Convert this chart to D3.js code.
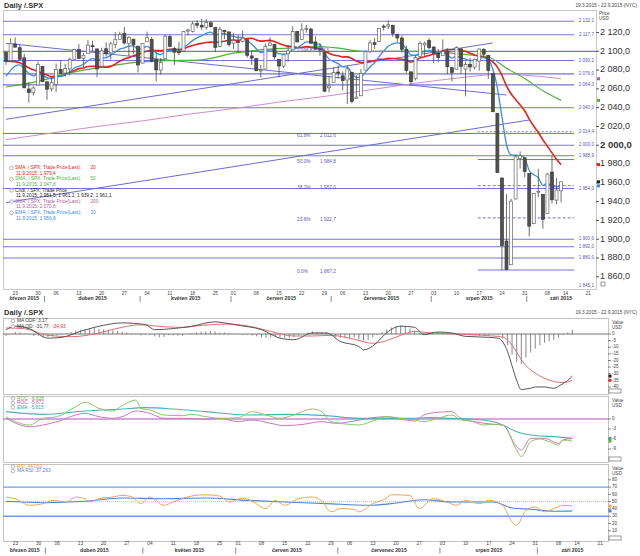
<!DOCTYPE html>
<html>
<head>
<meta charset="utf-8">
<script src="https://cdn.jsdelivr.net/npm/d3@7"></script>
<style>
body { margin: 0; background: #fff; }
text { font-family: "Liberation Sans", Arial, sans-serif; }
</style>
</head>
<body>
<svg id="chart" width="640" height="556"></svg>
<script>
// daily candles: date, open, high, low, close
var candles = [
["2015-03-19",2098.7,2098.7,2085.6,2089.3],["2015-03-20",2090.3,2113.9,2090.3,2108.1],
["2015-03-23",2108.0,2114.9,2104.4,2104.4],["2015-03-24",2103.9,2107.6,2091.5,2091.5],
["2015-03-25",2093.1,2097.4,2061.1,2061.1],["2015-03-26",2059.9,2067.2,2045.5,2056.2],
["2015-03-27",2055.8,2062.8,2053.0,2061.0],["2015-03-30",2064.1,2089.0,2064.1,2086.2],
["2015-03-31",2084.1,2084.1,2067.0,2067.9],["2015-04-01",2067.6,2067.6,2048.4,2059.7],
["2015-04-02",2060.0,2072.2,2057.3,2067.0],["2015-04-06",2064.9,2087.0,2056.5,2080.6],
["2015-04-07",2080.8,2089.8,2076.1,2076.3],["2015-04-08",2076.9,2086.7,2073.3,2081.9],
["2015-04-09",2081.3,2093.3,2074.3,2091.2],["2015-04-10",2091.5,2102.6,2091.5,2102.1],
["2015-04-13",2102.0,2107.7,2092.3,2092.4],["2015-04-14",2092.3,2098.6,2083.2,2095.8],
["2015-04-15",2097.8,2111.9,2097.8,2106.6],["2015-04-16",2106.0,2111.3,2100.0,2105.0],
["2015-04-17",2102.6,2102.6,2072.4,2081.2],["2015-04-20",2084.1,2103.9,2084.1,2100.4],
["2015-04-21",2102.8,2109.6,2094.4,2097.3],["2015-04-22",2098.3,2110.0,2091.1,2108.0],
["2015-04-23",2107.2,2120.5,2103.2,2112.9],["2015-04-24",2112.8,2120.9,2112.8,2117.7],
["2015-04-27",2119.3,2125.9,2107.0,2108.9],["2015-04-28",2108.4,2116.0,2094.9,2114.8],
["2015-04-29",2112.5,2113.7,2097.4,2106.9],["2015-04-30",2105.5,2105.5,2077.6,2085.5],
["2015-05-01",2087.4,2108.4,2087.4,2108.3],["2015-05-04",2110.2,2121.0,2110.2,2114.5],
["2015-05-05",2112.6,2115.2,2088.5,2089.5],["2015-05-06",2091.3,2098.4,2067.9,2080.2],
["2015-05-07",2080.0,2092.9,2075.0,2088.0],["2015-05-08",2092.1,2117.7,2092.1,2116.1],
["2015-05-11",2115.6,2117.7,2104.6,2105.3],["2015-05-12",2102.9,2105.1,2085.6,2099.1],
["2015-05-13",2099.6,2110.2,2096.0,2098.5],["2015-05-14",2100.4,2121.5,2100.4,2121.1],
["2015-05-15",2122.1,2123.9,2116.8,2122.7],["2015-05-18",2121.3,2131.8,2120.0,2129.2],
["2015-05-19",2129.5,2133.0,2124.5,2127.8],["2015-05-20",2127.8,2134.7,2122.6,2125.9],
["2015-05-21",2125.6,2134.3,2123.0,2130.8],["2015-05-22",2130.4,2132.2,2126.1,2126.1],
["2015-05-26",2125.3,2125.3,2099.2,2104.2],["2015-05-27",2105.1,2126.2,2105.1,2123.5],
["2015-05-28",2122.3,2122.3,2112.9,2120.8],["2015-05-29",2120.7,2120.7,2104.9,2107.4],
["2015-06-01",2108.6,2119.2,2102.5,2111.7],["2015-06-02",2110.4,2117.6,2099.1,2109.6],
["2015-06-03",2110.6,2121.9,2109.6,2114.1],["2015-06-04",2112.4,2112.9,2093.2,2095.8],
["2015-06-05",2095.1,2101.0,2085.7,2092.8],["2015-06-08",2092.3,2093.0,2079.1,2079.3],
["2015-06-09",2079.1,2085.6,2072.1,2080.2],["2015-06-10",2081.1,2108.5,2081.1,2105.2],
["2015-06-11",2106.2,2115.0,2106.2,2108.9],["2015-06-12",2107.4,2107.4,2091.3,2094.1],
["2015-06-15",2091.3,2091.3,2072.5,2084.4],["2015-06-16",2084.3,2097.4,2082.1,2096.3],
["2015-06-17",2097.4,2106.8,2088.9,2100.4],["2015-06-18",2101.6,2126.7,2101.6,2121.2],
["2015-06-19",2121.1,2121.6,2109.5,2110.0],["2015-06-22",2112.5,2129.9,2112.5,2122.9],
["2015-06-23",2123.2,2128.0,2119.9,2124.2],["2015-06-24",2123.7,2125.1,2108.6,2108.6],
["2015-06-25",2110.0,2116.0,2101.8,2102.3],["2015-06-26",2102.6,2108.9,2095.4,2101.5],
["2015-06-29",2098.6,2098.6,2056.6,2057.6],["2015-06-30",2061.2,2074.3,2056.3,2063.1],
["2015-07-01",2067.0,2082.8,2067.0,2077.4],["2015-07-02",2078.0,2085.1,2071.0,2076.8],
["2015-07-06",2074.0,2078.6,2058.4,2068.8],["2015-07-07",2069.5,2083.7,2044.0,2081.3],
["2015-07-08",2077.7,2077.7,2044.7,2046.7],["2015-07-09",2049.7,2074.3,2049.7,2051.3],
["2015-07-10",2052.7,2081.3,2052.7,2076.6],["2015-07-13",2080.0,2100.7,2080.0,2099.6],
["2015-07-14",2099.7,2112.0,2098.2,2109.0],["2015-07-15",2109.2,2114.1,2102.5,2107.4],
["2015-07-16",2110.6,2124.4,2110.6,2124.3],["2015-07-17",2126.8,2128.9,2122.0,2126.6],
["2015-07-20",2126.9,2132.8,2123.7,2128.3],["2015-07-21",2127.6,2128.5,2115.4,2119.2],
["2015-07-22",2118.2,2118.5,2110.0,2114.2],["2015-07-23",2114.2,2116.9,2098.6,2102.2],
["2015-07-24",2102.2,2106.0,2077.1,2079.7],["2015-07-27",2078.2,2078.2,2063.5,2067.6],
["2015-07-28",2070.8,2095.6,2069.1,2093.3],["2015-07-29",2094.7,2110.6,2094.1,2108.6],
["2015-07-30",2106.8,2110.5,2095.0,2108.6],["2015-07-31",2111.6,2114.2,2102.1,2103.8],
["2015-08-03",2104.5,2105.7,2087.3,2098.0],["2015-08-04",2097.7,2102.5,2088.6,2093.3],
["2015-08-05",2095.3,2112.7,2095.3,2099.8],["2015-08-06",2100.1,2103.3,2075.5,2083.6],
["2015-08-07",2082.6,2082.6,2067.9,2077.6],["2015-08-10",2081.0,2105.4,2081.0,2104.2],
["2015-08-11",2102.7,2102.7,2076.5,2084.1],["2015-08-12",2081.1,2089.1,2052.1,2086.1],
["2015-08-13",2086.2,2092.9,2078.3,2083.4],["2015-08-14",2083.2,2092.5,2080.6,2091.5],
["2015-08-17",2089.7,2102.9,2079.3,2102.4],["2015-08-18",2102.0,2103.5,2094.1,2096.9],
["2015-08-19",2095.7,2096.2,2070.5,2079.6],["2015-08-20",2076.6,2076.6,2035.7,2035.7],
["2015-08-21",2034.1,2034.1,1970.9,1970.9],["2015-08-24",1965.2,1965.2,1867.0,1893.2],
["2015-08-25",1898.1,1948.0,1867.1,1867.6],["2015-08-26",1872.8,1943.1,1872.8,1940.5],
["2015-08-27",1942.8,1989.6,1942.8,1987.7],["2015-08-28",1986.1,1993.5,1975.2,1988.9],
["2015-08-31",1986.7,1986.7,1966.0,1972.2],["2015-09-01",1970.1,1970.1,1903.1,1913.9],
["2015-09-02",1916.5,1948.9,1916.5,1948.9],["2015-09-03",1950.8,1975.0,1944.7,1951.1],
["2015-09-04",1947.8,1947.8,1911.2,1921.2],["2015-09-08",1927.3,1970.4,1927.3,1969.4],
["2015-09-09",1971.5,1988.6,1937.9,1942.0],["2015-09-10",1941.6,1965.3,1937.2,1952.3],
["2015-09-11",1951.5,1961.1,1939.2,1961.1]
];
// empty trading days still on the axis
var futureDays = ["2015-09-14","2015-09-15","2015-09-16","2015-09-17","2015-09-18","2015-09-21","2015-09-22"];

// per-day EMA 10 and SMA 20 (one value per candle)
var ema10 = [2073.5,2079.8,2084.3,2085.6,2081.1,2076.6,2073.8,2076.1,2074.6,2071.9,
2071.0,2072.7,2073.4,2074.9,2077.9,2082.3,2084.1,2086.2,2089.9,2092.6,
2090.5,2092.3,2093.2,2095.9,2099.0,2102.4,2103.6,2105.6,2105.8,2102.1,
2103.2,2105.3,2102.4,2098.4,2096.5,2100.1,2101.0,2100.7,2100.3,2104.1,
2107.5,2111.4,2114.4,2116.5,2119.1,2120.4,2117.5,2118.6,2119.0,2116.9,
2116.0,2114.8,2114.7,2111.3,2107.9,2102.7,2098.6,2099.8,2101.5,2100.2,
2097.3,2097.1,2097.7,2102.0,2103.5,2107.0,2110.1,2109.8,2108.4,2107.1,
2098.1,2091.7,2089.1,2086.9,2083.6,2083.2,2076.6,2072.0,2072.8,2077.7,
2083.4,2087.8,2094.4,2100.3,2105.4,2107.9,2109.0,2107.7,2102.6,2096.2,
2095.7,2098.0,2099.9,2100.6,2100.1,2098.9,2099.1,2096.3,2092.9,2095.0,
2093.0,2091.7,2090.2,2090.4,2092.6,2093.4,2090.9,2080.9,2060.9,2030.4,
2000.8,1989.8,1989.4,1989.3,1986.2,1973.1,1968.7,1965.5,1957.4,1959.6,
1956.4,1955.7,1956.8];
var sma20 = [2089.4,2089.3,2089.0,2087.8,2085.2,2082.5,2080.3,2078.7,2076.7,2074.8,
2073.1,2073.6,2073.4,2075.3,2077.8,2079.6,2081.6,2082.3,2083.9,2084.2,
2083.8,2083.4,2083.0,2083.9,2086.4,2089.5,2091.9,2093.3,2095.3,2096.6,
2098.6,2100.3,2101.0,2100.9,2100.7,2101.4,2102.1,2102.2,2101.8,2102.6,
2104.7,2106.1,2107.6,2108.5,2109.4,2109.8,2109.6,2110.0,2110.7,2111.8,
2112.0,2111.7,2113.0,2113.7,2114.0,2112.1,2110.9,2111.2,2111.7,2110.4,
2108.4,2106.8,2105.4,2105.2,2104.1,2104.0,2105.0,2104.2,2103.3,2103.0,
2100.3,2098.0,2096.1,2095.2,2094.0,2094.1,2092.4,2089.7,2088.1,2088.4,
2089.6,2090.2,2091.4,2091.6,2092.6,2092.4,2091.9,2091.5,2090.4,2088.7,
2090.5,2092.8,2094.3,2095.7,2097.1,2097.7,2100.4,2102.0,2102.0,2102.3,
2101.0,2100.0,2097.9,2096.2,2094.9,2093.7,2092.0,2088.7,2083.2,2074.5,
2063.2,2054.8,2048.8,2043.0,2036.7,2027.8,2020.2,2013.6,2005.8,1999.0,
1991.9,1985.2,1979.4];
// slower averages read at sample dates
var sma50 = [["2015-03-19",2062],["2015-03-30",2068],["2015-04-09",2077],["2015-04-20",2083],
["2015-04-29",2088],["2015-05-08",2090],["2015-05-20",2091],["2015-06-01",2098],
["2015-06-10",2102],["2015-06-19",2104],["2015-06-26",2105],["2015-07-01",2104],
["2015-07-13",2100],["2015-07-22",2100],["2015-07-31",2100],["2015-08-11",2097],
["2015-08-19",2094],["2015-08-25",2082],["2015-08-31",2071],["2015-09-04",2058],
["2015-09-11",2047.8]];
var sma200 = [["2015-03-19",2006],["2015-04-02",2013],["2015-04-17",2020],["2015-05-01",2026],
["2015-05-15",2033],["2015-06-01",2039],["2015-06-15",2046],["2015-06-29",2052],
["2015-07-14",2059],["2015-07-28",2066],["2015-08-11",2072],["2015-08-19",2075],
["2015-08-25",2076],["2015-08-31",2074.5],["2015-09-04",2073],["2015-09-11",2070.8]];

// horizontal price levels with labels at the right
var levelPrices = [2132.1, 2117.7, 2090.2, 2076.0, 2064.3, 2040.0, 2000.0, 1988.9, 1954.0, 1900.0, 1892.0, 1880.0, 1845.1];
var plainLevels = [2100.0, 2012.6];
var dashLevel = 2014.4;
// fibonacci retracement
var fibPct = ["61.8%", "50.0%", "38.2%", "23.6%", "0.0%"];
var fibPrices = [2012.6, 1984.8, 1957.0, 1922.7, 1867.2];
var fibDashed = [false, false, true, true, false];
var fibStart = "2015-08-17";
// trend lines (date, price) end points
var trendLines = [
  [["2015-03-19", 2108.5], ["2015-08-25", 2053.5]],
  [["2015-03-19", 2027.7], ["2015-08-20", 2108.9]],
  [["2015-03-19", 1939.0], ["2015-09-01", 2026.9]]
];
var priceTicks = [1860, 1880, 1900, 1920, 1940, 1960, 1980, 2000, 2020, 2040, 2060, 2080, 2100, 2120];

// MACD
var macdLine = [["2015-03-19",3.3],["2015-03-23",5.9],["2015-03-26",4],["2015-04-01",-3.1],["2015-04-07",-2.5],
["2015-04-13",2],["2015-04-20",6.6],["2015-04-24",8.4],["2015-05-01",7.1],["2015-05-05",3.3],
["2015-05-11",4.1],["2015-05-15",5.9],["2015-05-22",9.2],["2015-05-27",8.4],["2015-06-01",6.6],
["2015-06-08",3.3],["2015-06-12",-3.1],["2015-06-17",-4.3],["2015-06-23",0.8],["2015-06-26",0.8],
["2015-07-01",-5.6],["2015-07-08",-9.4],["2015-07-09",-12],["2015-07-13",-9],["2015-07-14",-6],
["2015-07-16",1],["2015-07-21",5.9],["2015-07-24",5.1],["2015-07-28",-0.5],["2015-07-31",1.5],
["2015-08-05",0.8],["2015-08-10",-1.8],["2015-08-17",-2.5],["2015-08-19",-3.1],["2015-08-20",-6],
["2015-08-21",-13],["2015-08-24",-24],["2015-08-25",-35],["2015-08-26",-42],["2015-08-27",-41.5],
["2015-08-28",-41],["2015-08-31",-40],["2015-09-01",-40],["2015-09-02",-40],["2015-09-03",-40.5],
["2015-09-04",-41],["2015-09-08",-39.5],["2015-09-09",-37.4],["2015-09-10",-35],["2015-09-11",-31.8]];
var macdSignal = [["2015-03-19",4.6],["2015-03-25",4],["2015-04-01",-1],["2015-04-09",-2],["2015-04-16",0],
["2015-04-22",3.5],["2015-04-30",7],["2015-05-07",5.5],["2015-05-13",5],["2015-05-19",6.5],
["2015-05-28",7.5],["2015-06-04",5.5],["2015-06-10",2],["2015-06-17",-1.5],["2015-06-23",-1.5],
["2015-06-29",-1],["2015-07-07",-4],["2015-07-13",-7],["2015-07-16",-5],["2015-07-21",-1],
["2015-07-24",2],["2015-07-29",1],["2015-08-04",0.5],["2015-08-11",-0.5],["2015-08-18",-1.5],
["2015-08-20",-2.3],["2015-08-21",-4.5],["2015-08-24",-8.5],["2015-08-25",-13.8],["2015-08-26",-19.4],
["2015-08-27",-23.8],["2015-08-28",-27],["2015-08-31",-29.6],["2015-09-01",-31.7],["2015-09-02",-33.4],
["2015-09-03",-34.8],["2015-09-04",-35.9],["2015-09-08",-36.5],["2015-09-09",-36.7],["2015-09-10",-36.2],
["2015-09-11",-34.9]];
var macdHist = [
-1.3,-0.2,1.5,1.2,0.3,-0.5,-1.5,-1.2,-2,-2.2,
-1.8,-1,-0.5,0.5,1.5,2.5,3.2,3.8,4.3,4.5,
3.8,3.5,3.2,2.8,2.2,1.8,1.2,0.8,0.2,-1,
-0.5,-0.8,-1.8,-2.5,-2.2,-0.8,-1,-1.2,-1.3,0,
0.5,1.2,1.8,2,2.2,2,1,1.2,0.8,0,
-0.2,-0.5,-0.5,-1.2,-1.8,-2.5,-3,-2.5,-2,-2.5,
-3,-2.8,-2.5,-1,0,1.2,2,1.5,1.2,1.5,
-1.5,-2.5,-2.8,-3,-3.2,-2.8,-4,-5,-4.5,-2.5,
-0.5,1.5,3.5,5,6,6.5,5.5,4.2,2.5,0.5,
0.8,1.5,1.8,1.5,1,0.5,0.5,-0.3,-1,-0.5,
-0.8,-1,-1.2,-1.1,-0.6,-0.5,-1,-3.5,-8.5,-15.5,
-21,-22.6,-17.7,-14,-11,-8.5,-6.6,-5.5,-4.5,-3,
-0.7,1.2,3.17];
var macdTicks = [0, -5, -10, -15, -20, -25, -30, -35, -40];

// ROC
var rocA = [["2015-03-19",0.7],["2015-03-23",-0.8],["2015-03-26",-1.8],["2015-03-31",0.2],["2015-04-06",0.7],
["2015-04-10",3.7],["2015-04-14",5],["2015-04-17",3.2],["2015-04-22",2.4],["2015-04-24",4],
["2015-04-29",5.7],["2015-04-30",3.2],["2015-05-04",2.7],["2015-05-07",1.2],["2015-05-13",1],
["2015-05-15",1.4],["2015-05-20",0.7],["2015-05-26",0.2],["2015-06-01",0.4],["2015-06-04",2.2],
["2015-06-09",1.2],["2015-06-12",0.2],["2015-06-17",1.2],["2015-06-23",3],["2015-06-25",2.2],
["2015-06-29",-0.8],["2015-07-06",-1.6],["2015-07-08",-1.8],["2015-07-13",-0.6],["2015-07-16",0.7],
["2015-07-21",0.2],["2015-07-24",-0.3],["2015-07-28",-0.8],["2015-07-31",0.2],["2015-08-05",1.2],
["2015-08-07",-0.3],["2015-08-11",-0.6],["2015-08-14",-1.8],["2015-08-18",-1.6],["2015-08-20",-1.8],
["2015-08-25",-9.3],["2015-08-26",-11.3],["2015-08-28",-6.8],["2015-09-01",-6],["2015-09-03",-6.8],
["2015-09-08",-7.8],["2015-09-09",-6.3],["2015-09-11",-6.64]];
var rocB = [["2015-03-19",0.2],["2015-03-26",-2.3],["2015-03-31",-1.8],["2015-04-06",-0.8],["2015-04-10",1.2],
["2015-04-14",1.7],["2015-04-17",0.7],["2015-04-22",0.2],["2015-04-24",0.7],["2015-04-29",2.4],
["2015-05-04",1.7],["2015-05-07",0.2],["2015-05-13",0.2],["2015-05-20",-0.1],["2015-05-26",0.2],
["2015-06-01",-0.8],["2015-06-04",-0.3],["2015-06-10",-1.3],["2015-06-15",-2],["2015-06-19",-1.6],
["2015-06-25",-0.8],["2015-06-30",-1.3],["2015-07-07",-0.6],["2015-07-10",0.2],["2015-07-16",0.7],
["2015-07-21",0],["2015-07-24",-0.6],["2015-07-28",1.2],["2015-07-31",2],["2015-08-05",2.2],
["2015-08-07",0.2],["2015-08-12",-0.8],["2015-08-18",-1.6],["2015-08-20",-1.8],["2015-08-25",-8.3],
["2015-08-26",-9.3],["2015-08-28",-5.8],["2015-09-02",-5.8],["2015-09-08",-7.3],["2015-09-09",-6.3],
["2015-09-11",-5.87]];
var rocEma = [["2015-03-19",2.2],["2015-03-31",1.4],["2015-04-14",2.4],["2015-04-24",3],["2015-05-01",3.4],
["2015-05-11",3],["2015-05-20",2.2],["2015-06-03",1.2],["2015-06-15",1.4],["2015-06-26",1],
["2015-07-08",0.2],["2015-07-16",0.2],["2015-07-23",0.2],["2015-07-29",0.4],["2015-08-05",0.2],
["2015-08-11",0],["2015-08-18",-0.8],["2015-08-20",-1.8],["2015-08-25",-3.8],["2015-08-28",-4.8],
["2015-09-04",-5.3],["2015-09-11",-5.8]];
var rocTicks = [0, -3, -6, -9];

// RSI
var rsi = [["2015-03-19",56.4],["2015-03-23",54],["2015-03-26",45],["2015-03-31",47.3],["2015-04-02",51.8],
["2015-04-08",49.5],["2015-04-10",56.4],["2015-04-14",54],["2015-04-15",49.5],["2015-04-17",54],
["2015-04-22",56.4],["2015-04-24",58.6],["2015-04-28",57],["2015-04-30",47.3],["2015-05-04",56.4],
["2015-05-07",45],["2015-05-11",49.5],["2015-05-14",56.4],["2015-05-20",59.5],["2015-05-26",57.7],
["2015-05-28",49.5],["2015-06-02",55],["2015-06-04",50.5],["2015-06-09",40.5],["2015-06-11",51.8],
["2015-06-15",45],["2015-06-18",54],["2015-06-23",56.4],["2015-06-25",51],["2015-06-29",36],
["2015-07-01",40.5],["2015-07-07",39.5],["2015-07-08",36],["2015-07-13",47.3],["2015-07-16",55],
["2015-07-17",59.5],["2015-07-23",58.6],["2015-07-27",40.5],["2015-07-30",54],["2015-08-04",49.5],
["2015-08-06",45],["2015-08-10",51.8],["2015-08-13",47.3],["2015-08-17",51.8],["2015-08-20",45],
["2015-08-24",22.3],["2015-08-25",17.7],["2015-08-27",38.2],["2015-08-31",42.7],["2015-09-02",36],
["2015-09-04",40.5],["2015-09-09",45],["2015-09-11",44.0]];
var rsiMa = [["2015-03-19",50.5],["2015-03-31",48.6],["2015-04-14",50.5],["2015-04-24",55],["2015-05-07",54],
["2015-05-20",55],["2015-06-03",51.8],["2015-06-15",49.5],["2015-06-26",47.3],["2015-07-10",45],
["2015-07-17",47.3],["2015-07-28",52.7],["2015-08-05",49.5],["2015-08-18",49.5],["2015-08-24",41.4],
["2015-08-28",39.5],["2015-09-04",36.8],["2015-09-11",37.3]];
var rsiTicks = [80, 70, 60, 50, 40, 30, 20, 10];
var rsiBands = [70, 30];

// date axis
var weekTicks = ["2015-03-23","2015-03-30","2015-04-06","2015-04-13","2015-04-20","2015-04-27","2015-05-04",
"2015-05-11","2015-05-18","2015-05-26","2015-06-01","2015-06-08","2015-06-15","2015-06-22","2015-06-29",
"2015-07-06","2015-07-13","2015-07-20","2015-07-27","2015-08-03","2015-08-10","2015-08-17","2015-08-24",
"2015-08-31","2015-09-08","2015-09-14","2015-09-21"];
var weekLabels = ["23","30","06","13","20","27","04","11","18","25","01","08","15","22","29","06","13","20","27","03","10","17","24","31","08","14","21"];
var monthNames = ["březen 2015","duben 2015","květen 2015","červen 2015","červenec 2015","srpen 2015","září 2015"];
var monthStarts = ["2015-03-19","2015-04-01","2015-05-01","2015-06-01","2015-07-01","2015-08-03","2015-09-01"];

var svg = d3.select('#chart');

var main = {l: 3, r: 596, t: 10, b: 289};
var lowR = 608;
var macdP = {t: 318, b: 394}, rocP = {t: 396, b: 462}, rsiP = {t: 464, b: 541};
var lvlEnd = 574;
var blueLvl = '#7373d4';

var allDays = candles.map(function (d) { return d[0]; }).concat(futureDays);
var xMain = d3.scaleBand().domain(allDays).range([main.l, main.r]).padding(0.35);
var xLow = d3.scaleBand().domain(allDays).range([main.l, lowR]).padding(0.35);
function cx(x, d) { return x(d) + x.bandwidth() / 2; }

var y = d3.scaleLinear().domain([1847, 2144]).range([main.b, main.t]);
var yMacd = d3.scaleLinear().domain([-45.3, 12.1]).range([macdP.b, macdP.t]);
var yRoc = d3.scaleLinear().domain([-12.9, 6.9]).range([rocP.b, rocP.t]);
var yRsi = d3.scaleLinear().domain([-4, 101.7]).range([rsiP.b, rsiP.t]);

function fmt(v) { return d3.format(',.1f')(v).replace(/,/g, ' ').replace('.', ','); }

function txt(x, yy, s, size, color, anchor, weight) {
    return svg.append('text')
        .attr('x', x).attr('y', yy)
        .attr('dominant-baseline', 'middle')
        .attr('text-anchor', anchor || 'start')
        .style('font-size', size + 'px')
        .style('font-weight', weight || 'normal')
        .style('fill', color)
        .text(s);
}

// clip paths
var defs = svg.append('defs');
[['clipMain', main.t, main.b, main.r], ['clipMacd', macdP.t, macdP.b, lowR],
 ['clipRoc', rocP.t, rocP.b, lowR], ['clipRsi', rsiP.t, rsiP.b, lowR]].forEach(function (c) {
    defs.append('clipPath').attr('id', c[0]).append('rect')
        .attr('x', main.l).attr('y', c[1]).attr('width', c[3] - main.l).attr('height', c[2] - c[1]);
});

// headers
txt(4, 6, 'Daily /.SPX', 7.5, '#333', 'start', 'bold');
txt(637, 6, '19.3.2015 - 22.9.2015 (NYC)', 4.8, '#444', 'end');
txt(4, 313, 'Daily /.SPX', 7.5, '#333', 'start', 'bold');
txt(637, 313, '19.3.2015 - 22.9.2015 (NYC)', 4.8, '#444', 'end');

// ---------- main price panel ----------
svg.append('rect').attr('x', main.l + 0.5).attr('y', main.t + 0.5)
    .attr('width', main.r - main.l).attr('height', main.b - main.t)
    .attr('fill', '#fff').attr('stroke', '#c8c8c8');

var gMain = svg.append('g').attr('clip-path', 'url(#clipMain)');

plainLevels.forEach(function (p, i) {
    gMain.append('line')
        .attr('x1', main.l).attr('x2', i === 0 ? main.r : xMain(fibStart))
        .attr('y1', y(p)).attr('y2', y(p))
        .attr('stroke', blueLvl).attr('stroke-width', 1.1);
});

levelPrices.forEach(function (p) {
    gMain.append('line')
        .attr('x1', main.l).attr('x2', lvlEnd)
        .attr('y1', y(p)).attr('y2', y(p))
        .attr('stroke', blueLvl).attr('stroke-width', 1.1);
});

gMain.append('line')
    .attr('x1', xMain(fibStart)).attr('x2', lvlEnd)
    .attr('y1', y(dashLevel)).attr('y2', y(dashLevel))
    .attr('stroke', blueLvl).attr('stroke-dasharray', '2,2');

fibPrices.forEach(function (p, i) {
    gMain.append('line')
        .attr('x1', i === 0 ? main.l : xMain(fibStart)).attr('x2', lvlEnd)
        .attr('y1', y(p)).attr('y2', y(p))
        .attr('stroke', blueLvl)
        .attr('stroke-dasharray', fibDashed[i] ? '3,2' : null);
    txt(297, y(p) + 2, fibPct[i], 4.8, '#5a5ab8');
    txt(320, y(p) + 2, fmt(p), 4.8, '#5a5ab8');
});

// level labels (the bottom one sits just above the frame)
levelPrices.concat([dashLevel]).forEach(function (p) {
    txt(594, Math.min(y(p), main.b - 3), fmt(p), 4.6, '#5a5ab8', 'end');
});
txt(297, 51, '2 098,8   2 092,3', 4.6, '#5a5ab8');

// trend lines
var trend = d3.line().x(function (d) { return cx(xMain, d[0]); }).y(function (d) { return y(d[1]); });
trendLines.forEach(function (t) {
    gMain.append('path').attr('d', trend(t))
        .attr('fill', 'none').attr('stroke', '#6c6cd0').attr('stroke-width', 1);
});

// moving averages
var maLine = d3.line().curve(d3.curveMonotoneX)
    .x(function (d) { return cx(xMain, d[0]); }).y(function (d) { return y(d[1]); });
function perDay(arr) { return arr.map(function (v, i) { return [candles[i][0], v]; }); }

gMain.append('path').attr('d', maLine(sma200)).attr('fill', 'none').attr('stroke', '#cc8fcc').attr('stroke-width', 1);
gMain.append('path').attr('d', maLine(sma50)).attr('fill', 'none').attr('stroke', '#4fb23a').attr('stroke-width', 1.2);
gMain.append('path').attr('d', maLine(perDay(sma20))).attr('fill', 'none').attr('stroke', '#e0241e').attr('stroke-width', 1.6);
gMain.append('path').attr('d', maLine(perDay(ema10))).attr('fill', 'none').attr('stroke', '#3d8de0').attr('stroke-width', 1.3);

// candles
var cg = gMain.append('g').selectAll('g').data(candles).enter().append('g');
cg.append('line')
    .attr('x1', function (d) { return cx(xMain, d[0]); })
    .attr('x2', function (d) { return cx(xMain, d[0]); })
    .attr('y1', function (d) { return y(d[2]); })
    .attr('y2', function (d) { return y(d[3]); })
    .attr('stroke', '#4a4a4a').attr('stroke-width', 0.8);
cg.append('rect')
    .attr('x', function (d) { return xMain(d[0]); })
    .attr('width', xMain.bandwidth())
    .attr('y', function (d) { return y(Math.max(d[1], d[4])); })
    .attr('height', function (d) { return Math.max(1, Math.abs(y(d[1]) - y(d[4]))); })
    .attr('fill', function (d) { return d[4] >= d[1] ? '#fff' : '#505050'; })
    .attr('stroke', function (d) { return d[4] >= d[1] ? '#666' : '#3c3c3c'; })
    .attr('stroke-width', 0.7);

// price axis
priceTicks.forEach(function (p) {
    svg.append('line').attr('x1', main.r).attr('x2', main.r + 3)
        .attr('y1', y(p)).attr('y2', y(p)).attr('stroke', '#555');
    txt(main.r + 4, y(p), fmt(p), p === 2000 ? 9.5 : 9, '#333', 'start', p === 2000 ? 'bold' : 'normal');
});
txt(599, 14, 'Price', 4.6, '#444');
txt(599, 19, 'USD', 4.6, '#444');
svg.append('rect').attr('x', 601).attr('y', 282).attr('width', 4).attr('height', 4)
    .attr('fill', 'none').attr('stroke', '#555').attr('stroke-width', 0.6);

// last value markers
[[2070.8, '#b060a0'], [2047.8, '#4fb23a'], [1979.4, '#e0241e'], [1961.1, '#222'], [1956.8, '#3d8de0']]
    .forEach(function (m) {
        svg.append('rect').attr('x', 597).attr('y', y(m[0]) - 1.5).attr('width', 3).attr('height', 3).attr('fill', m[1]);
    });

// main legend
var legendRows = [
    ['SMA; /.SPX; Trade Price(Last);       20', '#e0241e', true],
    ['11.9.2015: 1 979,4', '#e0241e', false],
    ['SMA; /.SPX; Trade Price(Last);       50', '#4fb23a', true],
    ['11.9.2015: 2 047,8', '#4fb23a', false],
    ['Cndl; /.SPX; Trade Price', '#222', true],
    ['11.9.2015: 1 951,5; 1 961,1; 1 939,2; 1 961,1', '#222', false],
    ['SMA; /.SPX; Trade Price(Last);       200', '#b060a0', true],
    ['11.9.2015: 2 070,8', '#b060a0', false],
    ['EMA; /.SPX; Trade Price(Last);       10', '#3d8de0', true],
    ['11.9.2015: 1 956,8', '#3d8de0', false]
];
legendRows.forEach(function (r, i) {
    var yy = 168 + i * 5.6;
    if (r[2]) {
        svg.append('circle').attr('cx', 11.5).attr('cy', yy).attr('r', 1.8)
            .attr('fill', '#fff').attr('stroke', '#888').attr('stroke-width', 0.6);
    }
    txt(r[2] ? 15 : 16, yy, r[0], 4.8, r[1]).style('white-space', 'pre');
});

// date axis helper
function dateAxis(x, yDay, yMonth) {
    weekTicks.forEach(function (d, i) {
        txt(cx(x, d), yDay, weekLabels[i], 4.8, '#444', 'middle');
    });
    monthStarts.forEach(function (d, i) {
        var a = allDays.indexOf(d);
        var b = i < monthStarts.length - 1 ? allDays.indexOf(monthStarts[i + 1]) - 1 : allDays.length - 1;
        var mid = (cx(x, allDays[a]) + cx(x, allDays[b])) / 2;
        txt(mid, yMonth, monthNames[i], 5.2, '#333', 'middle', 'bold');
        if (i > 0) {
            svg.append('line').attr('x1', x(d) - 1).attr('x2', x(d) - 1)
                .attr('y1', yMonth - 3).attr('y2', yMonth + 3).attr('stroke', '#555').attr('stroke-width', 0.7);
        }
    });
}
dateAxis(xMain, 293.5, 299);

// ---------- lower panels ----------
function lowPanel(p) {
    svg.append('rect').attr('x', main.l + 0.5).attr('y', p.t + 0.5)
        .attr('width', lowR - main.l).attr('height', p.b - p.t)
        .attr('fill', '#fff').attr('stroke', '#c4c4c4');
    txt(612, p.t + 4.5, 'Value', 4.6, '#444');
    txt(612, p.t + 9.5, 'USD', 4.6, '#444');
    svg.append('rect').attr('x', 609).attr('y', p.b - 5).attr('width', 12).attr('height', 4)
        .attr('fill', 'none').attr('stroke', '#555').attr('stroke-width', 0.6);
}
function lowTicks(ticks, sc) {
    ticks.forEach(function (v) {
        svg.append('line').attr('x1', lowR).attr('x2', lowR + 3)
            .attr('y1', sc(v)).attr('y2', sc(v)).attr('stroke', '#555').attr('stroke-width', 0.7);
        txt(lowR + 4, sc(v), String(v), 4.6, '#444');
    });
}
function lowLine(g, data, sc, color, w) {
    var ln = d3.line().curve(d3.curveMonotoneX)
        .x(function (d) { return cx(xLow, d[0]); }).y(function (d) { return sc(d[1]); });
    g.append('path').attr('d', ln(data)).attr('fill', 'none').attr('stroke', color).attr('stroke-width', w || 1);
}
function marker(sc, v, color) {
    svg.append('rect').attr('x', lowR + 0.5).attr('y', sc(v) - 1.5).attr('width', 3).attr('height', 3).attr('fill', color);
}
function legendIcon(yy) {
    svg.append('circle').attr('cx', 13).attr('cy', yy).attr('r', 1.8)
        .attr('fill', '#fff').attr('stroke', '#888').attr('stroke-width', 0.6);
}

// MACD
lowPanel(macdP);
lowTicks(macdTicks, yMacd);
var gMacd = svg.append('g').attr('clip-path', 'url(#clipMacd)');
gMacd.append('line').attr('x1', main.l).attr('x2', lowR).attr('y1', yMacd(0)).attr('y2', yMacd(0)).attr('stroke', '#777');
gMacd.selectAll('.hist').data(macdHist).enter().append('line')
    .attr('class', 'hist')
    .attr('x1', function (d, i) { return cx(xLow, candles[i][0]); })
    .attr('x2', function (d, i) { return cx(xLow, candles[i][0]); })
    .attr('y1', yMacd(0))
    .attr('y2', function (d) { return yMacd(d); })
    .attr('stroke', '#6a6a6a').attr('stroke-width', 0.8);
lowLine(gMacd, macdSignal, yMacd, '#e07070', 1);
lowLine(gMacd, macdLine, yMacd, '#555', 1);
marker(yMacd, -31.77, '#222');
marker(yMacd, -34.93, '#e03030');
legendIcon(321);
txt(17, 321, 'MA ODF: 3,17', 4.8, '#333');
legendIcon(326.5);
txt(17, 326.5, 'MA OD: -31,77;', 4.8, '#333');
txt(52, 326.5, '-34,93', 4.8, '#e03030');

// ROC
lowPanel(rocP);
lowTicks(rocTicks, yRoc);
var gRoc = svg.append('g').attr('clip-path', 'url(#clipRoc)');
gRoc.append('line').attr('x1', main.l).attr('x2', lowR).attr('y1', yRoc(0)).attr('y2', yRoc(0))
    .attr('stroke', '#b24fc0').attr('stroke-width', 1);
lowLine(gRoc, rocEma, yRoc, '#4fb0b0', 1.1);
lowLine(gRoc, rocB, yRoc, '#c879b8', 1);
lowLine(gRoc, rocA, yRoc, '#8cc660', 1);
marker(yRoc, -5.8, '#3aa0a0');
marker(yRoc, -6.64, '#6bb040');
legendIcon(398.5); txt(17, 398.5, 'ROC: -6,638', 4.8, '#6bb040');
legendIcon(403); txt(17, 403, 'ROC: -5,872', 4.8, '#c060a8');
legendIcon(407.5); txt(17, 407.5, 'EMA: -5,815', 4.8, '#3aa0a0');

// RSI
lowPanel(rsiP);
lowTicks(rsiTicks, yRsi);
var gRsi = svg.append('g').attr('clip-path', 'url(#clipRsi)');
rsiBands.forEach(function (v) {
    gRsi.append('line').attr('x1', main.l).attr('x2', lowR).attr('y1', yRsi(v)).attr('y2', yRsi(v))
        .attr('stroke', '#6f9be6').attr('stroke-width', 1.4);
});
gRsi.append('line').attr('x1', main.l).attr('x2', lowR).attr('y1', yRsi(50)).attr('y2', yRsi(50))
    .attr('stroke', '#a9c4ee').attr('stroke-dasharray', '1,1');
lowLine(gRsi, rsiMa, yRsi, '#4f82d6', 1.1);
lowLine(gRsi, rsi, yRsi, '#f2a44a', 1);
marker(yRsi, 44.0, '#f2a44a');
marker(yRsi, 37.3, '#4f82d6');
legendIcon(466.5); txt(17, 466.5, 'RSI: 44,031', 4.8, '#f09a3a');
legendIcon(471); txt(17, 471, 'MA RSI: 37,263', 4.8, '#4f82d6');

dateAxis(xLow, 544, 550.5);
</script>
</body>
</html>
